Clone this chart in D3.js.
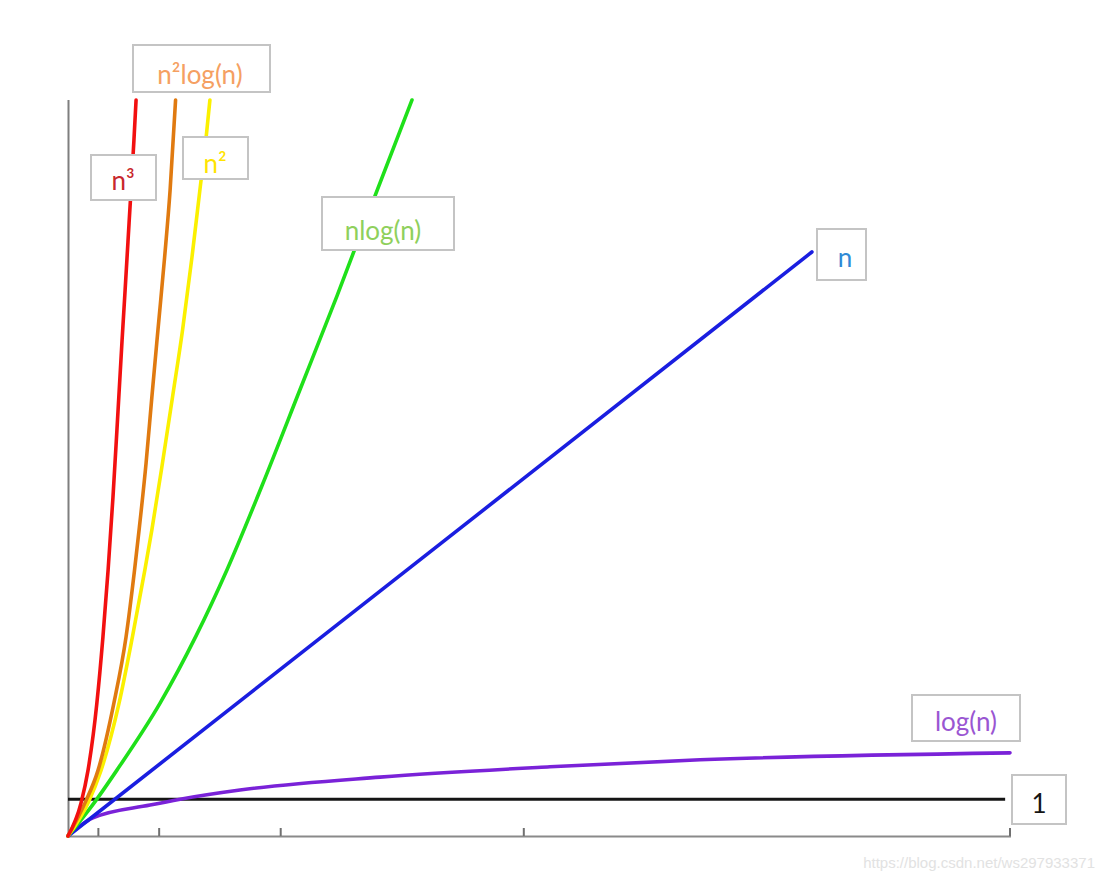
<!DOCTYPE html>
<html>
<head>
<meta charset="utf-8">
<script src="https://cdn.jsdelivr.net/npm/d3@7"></script>
<style>
  html, body { margin: 0; padding: 0; background: #fff; }
  svg { display: block; }
</style>
</head>
<body>
<svg id="chart" width="1103" height="883"></svg>
<script>
// ---- data (x = n, y = operations) ----
const xTicks = [1, 3, 7, 15, 31];
const constantLevel = 1;
const constantEnd = 30.84;

const cubeN = [0, 0.43, 0.66, 0.95, 1.15, 1.32, 1.48, 1.61, 1.78, 1.88, 2.01, 2.17, 2.24];
const cubeV = [0, 0.90, 1.79, 3.61, 5.41, 7.23, 9.21, 11.03, 13.48, 14.84, 16.66, 18.91, 20.0];

const sqLogN = [0, 0.56, 0.99, 1.51, 1.91, 2.19, 2.34, 2.57, 2.76, 2.96, 3.18, 3.36, 3.54];
const sqLogV = [0, 0.90, 1.79, 3.61, 5.41, 7.23, 8.32, 10.14, 11.93, 13.75, 15.73, 17.55, 20.0];

const sqN = [0, 0.66, 1.09, 1.68, 2.12, 2.53, 2.76, 3.11, 3.44, 3.77, 4.08, 4.34, 4.56, 4.67];
const sqV = [0, 0.90, 1.79, 3.61, 5.41, 7.23, 8.32, 10.14, 11.93, 13.75, 15.73, 17.55, 19.10, 20.0];

const nLogN = [0, 0.86, 1.61, 3.03, 4.21, 5.23, 6.38, 7.63, 8.85, 10.10, 11.32];
const nLogV = [0, 0.90, 1.79, 3.61, 5.43, 7.23, 9.51, 12.12, 14.67, 17.39, 20.0];

const linN = [0, 12.24, 24.48];
const linV = [0, 7.93, 15.87];

const logN = [0, 0.39, 0.82, 2.70, 3.69, 5.66, 10.27, 15.86, 20.80, 31];
const logV = [0, 0.27, 0.49, 0.84, 1.00, 1.25, 1.60, 1.88, 2.07, 2.26];

const seriesNames = ["n³", "n²log(n)", "n²", "nlog(n)", "n", "log(n)", "1"];

// ---- layout ----
const svg = d3.select("#chart");
const x = d3.scaleLinear().domain([0, 31]).range([68, 1010]);
const y = d3.scaleLinear().domain([0, 20]).range([836, 100]);

// axes
svg.append("line").attr("x1", 68.5).attr("x2", 68.5).attr("y1", 100).attr("y2", 837)
  .attr("stroke", "#7f7f7f").attr("stroke-width", 2);
svg.append("line").attr("x1", 68).attr("x2", x(31) + 1).attr("y1", 836.5).attr("y2", 836.5)
  .attr("stroke", "#8a8a8a").attr("stroke-width", 2);
svg.selectAll("line.tick").data(xTicks).join("line")
  .attr("class", "tick")
  .attr("x1", d => x(d)).attr("x2", d => x(d))
  .attr("y1", 828).attr("y2", 836)
  .attr("stroke", "#707070").attr("stroke-width", 2);

// constant line
svg.append("line")
  .attr("x1", x(0)).attr("x2", x(constantEnd))
  .attr("y1", y(constantLevel)).attr("y2", y(constantLevel))
  .attr("stroke", "#151515").attr("stroke-width", 3);

const zip = (a, b) => a.map((v, i) => [v, b[i]]);
const curves = [
  { pts: zip(logN, logV),     color: "#7a22d8" },
  { pts: zip(linN, linV),     color: "#1a1ee0" },
  { pts: zip(nLogN, nLogV),   color: "#1fe01a" },
  { pts: zip(sqN, sqV),       color: "#fbf000" },
  { pts: zip(sqLogN, sqLogV), color: "#e07a10" },
  { pts: zip(cubeN, cubeV),   color: "#f21010" }
];
const line = d3.line().x(d => x(d[0])).y(d => y(d[1])).curve(d3.curveMonotoneX);
svg.selectAll("path.curve").data(curves).join("path")
  .attr("class", "curve")
  .attr("d", d => line(d.pts))
  .attr("fill", "none")
  .attr("stroke", d => d.color)
  .attr("stroke-width", 3.6)
  .attr("stroke-linecap", "round");

// labels (box corners, text centre and baseline)
const labels = [
  { text: seriesNames[0], x0: 91,  y0: 155, x1: 156,  y1: 200, tx: 123,  ty: 190, color: "#c8282c" },
  { text: seriesNames[1], x0: 133, y0: 45,  x1: 270,  y1: 92,  tx: 200,  ty: 84,  color: "#f5a062" },
  { text: seriesNames[2], x0: 183, y0: 137, x1: 248,  y1: 179, tx: 215,  ty: 173, color: "#ffe400" },
  { text: seriesNames[3], x0: 322, y0: 197, x1: 454,  y1: 250, tx: 383,  ty: 240, color: "#8fd05c" },
  { text: seriesNames[4], x0: 817, y0: 229, x1: 866,  y1: 280, tx: 845,  ty: 267, color: "#2f8ad6" },
  { text: seriesNames[5], x0: 912, y0: 695, x1: 1020, y1: 741, tx: 966,  ty: 731, color: "#9a56d2" },
  { text: seriesNames[6], x0: 1012,y0: 775, x1: 1066, y1: 824, tx: 1039, ty: 813, color: "#151515" }
];
const g = svg.selectAll("g.lab").data(labels).join("g").attr("class", "lab");
g.append("rect")
  .attr("x", d => d.x0).attr("y", d => d.y0)
  .attr("width", d => d.x1 - d.x0).attr("height", d => d.y1 - d.y0)
  .attr("fill", "#fff").attr("stroke", "#c4c4c4").attr("stroke-width", 2);
g.append("text")
  .attr("x", d => d.tx)
  .attr("y", d => d.ty)
  .attr("text-anchor", "middle")
  .attr("font-family", "Lato, 'Open Sans', sans-serif")
  .attr("font-size", 26)
  .attr("fill", d => d.color)
  .text(d => d.text);

// watermark
svg.append("text")
  .attr("x", 1095).attr("y", 868)
  .attr("text-anchor", "end")
  .attr("font-family", "'Liberation Sans', Arial, sans-serif")
  .attr("font-size", 15)
  .attr("fill", "#e2e2e2")
  .text("https://blog.csdn.net/ws297933371");
</script>
</body>
</html>
